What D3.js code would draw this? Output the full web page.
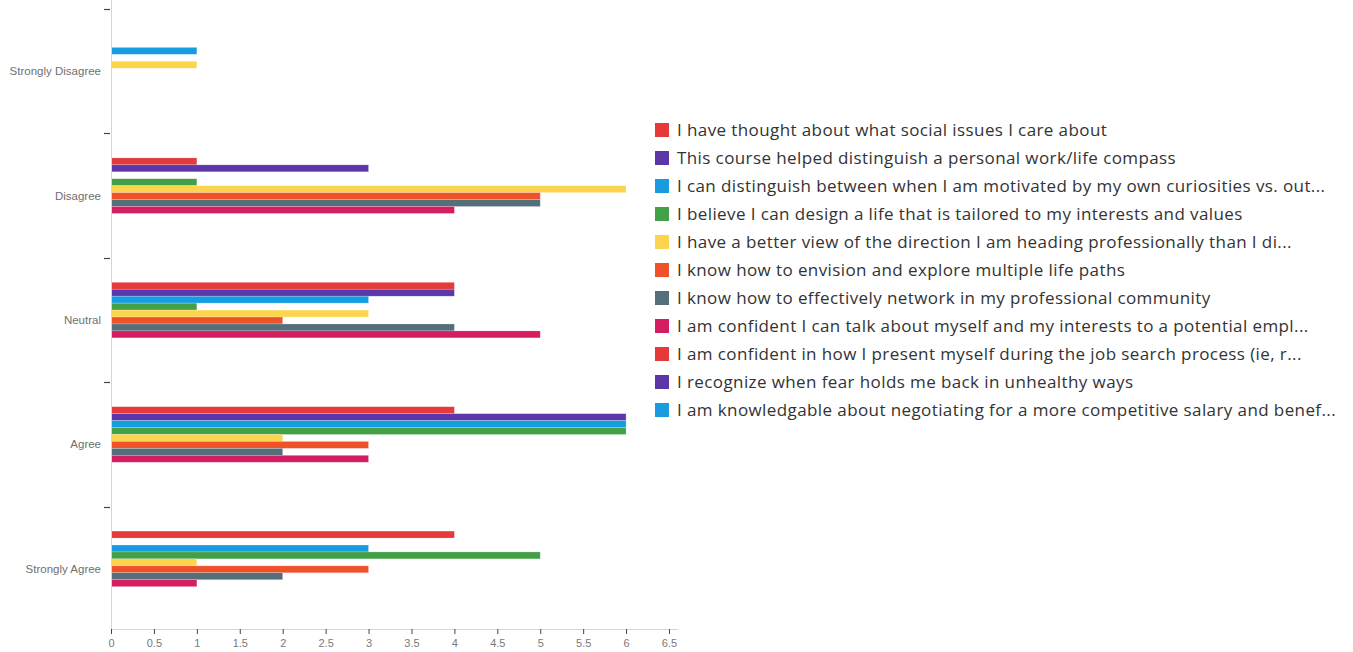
<!DOCTYPE html>
<html>
<head>
<meta charset="utf-8">
<script src="https://cdn.jsdelivr.net/npm/d3@7"></script>
<style>
	body { margin: 0; background: #fff; }
	svg { display: block; }
	.cat-label { font-family: "Liberation Sans", Arial, sans-serif; font-size: 11.5px; fill: #6f6f6f; }
	.x-label { font-family: "Liberation Sans", Arial, sans-serif; font-size: 11px; fill: #7a7a7a; }
	.legend-label { font-family: "Open Sans", Roboto, sans-serif; font-size: 17px; letter-spacing: 0.4px; fill: #333; }
</style>
</head>
<body>
<script>
// answer categories, top to bottom
const categories = ["Strongly Disagree", "Disagree", "Neutral", "Agree", "Strongly Agree"];

// one entry per statement, as shown in the legend
const seriesNames = [
	"I have thought about what social issues I care about",
	"This course helped distinguish a personal work/life compass",
	"I can distinguish between when I am motivated by my own curiosities vs. out...",
	"I believe I can design a life that is tailored to my interests and values",
	"I have a better view of the direction I am heading professionally than I di...",
	"I know how to envision and explore multiple life paths",
	"I know how to effectively network in my professional community",
	"I am confident I can talk about myself and my interests to a potential empl...",
	"I am confident in how I present myself during the job search process (ie, r...",
	"I recognize when fear holds me back in unhealthy ways",
	"I am knowledgable about negotiating for a more competitive salary and benef..."
];

const seriesColors = ["#e43a39", "#5d36aa", "#179ddf", "#43a047", "#fdd44e", "#ef5129",
	"#546e7a", "#d51d61", "#e43a39", "#5d36aa", "#179ddf"];

// counts per statement, in category order
const seriesValues = [
	[0, 1, 4, 4, 4],
	[0, 3, 4, 6, 0],
	[1, 0, 3, 6, 3],
	[0, 1, 1, 6, 5],
	[1, 6, 3, 2, 1],
	[0, 5, 2, 3, 3],
	[0, 5, 4, 2, 2],
	[0, 4, 5, 3, 1],
	[0, 0, 0, 0, 0],
	[0, 0, 0, 0, 0],
	[0, 0, 0, 0, 0]
];

const xTicks = d3.range(0, 6.51, 0.5);

const width = 1353, height = 652;
const plotLeft = 111, plotRight = 669, plotTop = 9, plotBottom = 631;

let svg = d3.select("body").append("svg")
	.attr("width", width)
	.attr("height", height);

let x = d3.scaleLinear().domain([0, 6.5]).range([plotLeft, plotRight]);
let y0 = d3.scaleBand().domain(categories).range([plotTop, plotBottom]).padding(0);
let y1 = d3.scaleBand().domain(d3.range(seriesNames.length))
	.range([24.5, y0.bandwidth() - 23.5]);

// flatten to one record per bar
let bars = [];
seriesValues.forEach((vals, s) => {
	vals.forEach((v, c) => bars.push({ s: s, cat: categories[c], value: v }));
});

//bars
svg.append("g").selectAll("rect")
	.data(bars.filter(d => d.value > 0))
	.enter().append("rect")
	.attr("x", x(0))
	.attr("y", d => y0(d.cat) + y1(d.s))
	.attr("width", d => x(d.value) - x(0))
	.attr("height", y1.bandwidth())
	.attr("fill", d => seriesColors[d.s])
	.attr("stroke", "#fff")
	.attr("stroke-opacity", 0.35)
	.attr("stroke-width", 0.6);

//y axis line, ticks at band boundaries, labels at band centers
svg.append("line")
	.attr("x1", plotLeft + 0.5).attr("x2", plotLeft + 0.5)
	.attr("y1", 0).attr("y2", 629)
	.attr("stroke", "#d6d6d6");

svg.append("g").selectAll("line")
	.data(categories)
	.enter().append("line")
	.attr("x1", 104).attr("x2", 110)
	.attr("y1", d => Math.round(y0(d)) + 0.5)
	.attr("y2", d => Math.round(y0(d)) + 0.5)
	.attr("stroke", "#444")
	.attr("stroke-width", 1.2);

svg.append("g").selectAll("text")
	.data(categories)
	.enter().append("text")
	.classed("cat-label", true)
	.attr("x", 101)
	.attr("y", d => y0(d) + y0.bandwidth() / 2)
	.attr("dy", "0.35em")
	.attr("text-anchor", "end")
	.text(d => d);

//x axis
let xAxis = svg.append("g")
	.attr("transform", "translate(0,629)")
	.call(d3.axisBottom(x).tickValues(xTicks).tickSize(5).tickSizeOuter(0).tickFormat(d3.format("")));
xAxis.select(".domain").attr("stroke", "#d6d6d6").attr("d", `M${plotLeft},0.5H678`);
xAxis.selectAll(".tick line").attr("stroke", "#444");
xAxis.selectAll(".tick text")
	.attr("class", "x-label")
	.attr("y", 10)
	.attr("dy", "0.71em");

//legend
let legend = svg.append("g").selectAll("g")
	.data(seriesNames)
	.enter().append("g")
	.attr("transform", (d, i) => `translate(655,${130 + i * 28})`);

legend.append("rect")
	.attr("x", 0).attr("y", -7)
	.attr("width", 14).attr("height", 14)
	.attr("fill", (d, i) => seriesColors[i]);

legend.append("text")
	.classed("legend-label", true)
	.attr("x", 22)
	.attr("dy", "0.35em")
	.text(d => d);
</script>
</body>
</html>
